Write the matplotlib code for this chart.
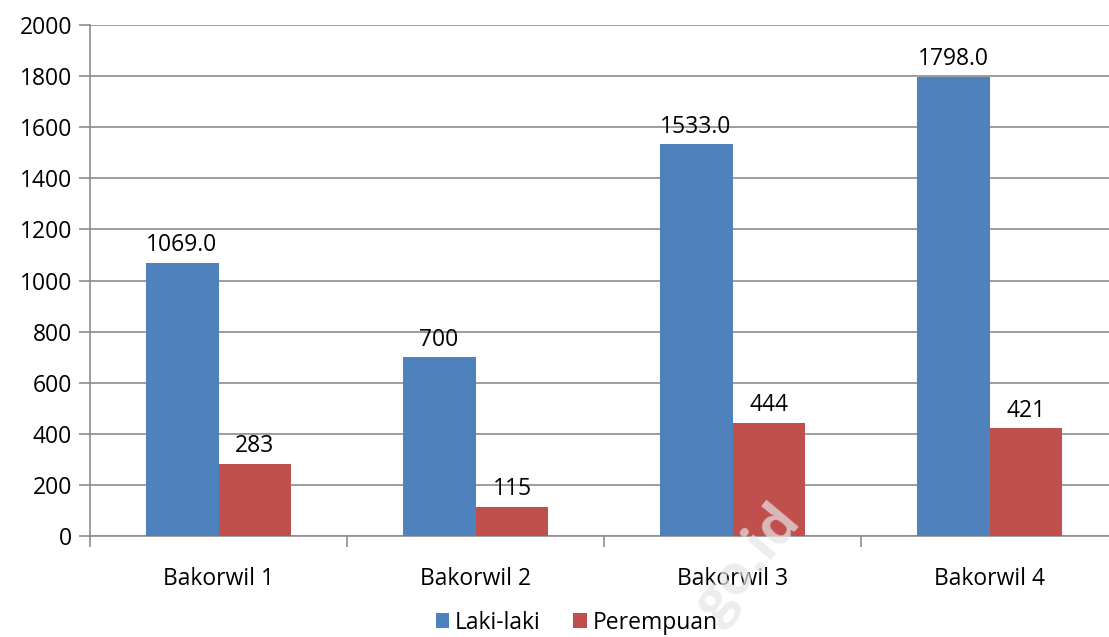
import numpy as np
import matplotlib.pyplot as plt

plt.rcParams['font.family'] = ['Open Sans', 'DejaVu Sans']

categories = ['Bakorwil 1', 'Bakorwil 2', 'Bakorwil 3', 'Bakorwil 4']
laki = [1069.0, 700, 1533.0, 1798.0]
perempuan = [283, 115, 444, 421]
laki_labels = ['1069.0', '700', '1533.0', '1798.0']
perempuan_labels = ['283', '115', '444', '421']

blue = '#4F81BD'
red = '#C0504D'
fs = 16.5

fig = plt.figure(figsize=(11.09, 6.37), dpi=100)
ax = fig.add_axes([90 / 1109, 1 - 536 / 637, 1028 / 1109, 511 / 637])

x = np.arange(len(categories))
w = 0.284
b1 = ax.bar(x - w / 2, laki, w, color=blue, label='Laki-laki', zorder=3)
b2 = ax.bar(x + w / 2, perempuan, w, color=red, label='Perempuan', zorder=3)

for rect, lab in zip(b1, laki_labels):
    ax.text(rect.get_x() + rect.get_width() / 2, rect.get_height() + 22, lab,
            ha='center', va='bottom', fontsize=fs)
for rect, lab in zip(b2, perempuan_labels):
    ax.text(rect.get_x() + rect.get_width() / 2, rect.get_height() + 22, lab,
            ha='center', va='bottom', fontsize=fs)

ax.set_xlim(-0.5, len(categories) - 0.5)
ax.set_ylim(0, 2000)
ax.set_yticks(np.arange(0, 2001, 200))
ax.yaxis.grid(True, color='#8c8c8c', linewidth=1.2, zorder=0)
ax.set_axisbelow(True)

ax.set_xticks(x)
ax.set_xticklabels(categories, fontsize=fs)
ax.set_xticks(np.arange(-0.5, len(categories), 1), minor=True)
ax.tick_params(axis='x', which='major', length=0, pad=22)
ax.tick_params(axis='x', which='minor', length=8, color='#8c8c8c', width=1.2)
ax.tick_params(axis='y', length=8, color='#8c8c8c', width=1.2, labelsize=fs, pad=5)

for s in ['top', 'right']:
    ax.spines[s].set_visible(False)
for s in ['left', 'bottom']:
    ax.spines[s].set_color('#8c8c8c')
    ax.spines[s].set_linewidth(1.2)

fig.legend(handles=[b1, b2], loc='lower center', bbox_to_anchor=(0.52, -0.029),
           ncol=2, frameon=False, fontsize=fs, handlelength=0.6, handleheight=0.6,
           handletextpad=0.25, columnspacing=1.4)

fig.text(0.675, 0.115, 'go.id', rotation=50, fontsize=40, fontweight='bold',
         color='#e6e6e6', alpha=0.7, ha='center', va='center', zorder=0)

fig.savefig('out.png', dpi=100)
